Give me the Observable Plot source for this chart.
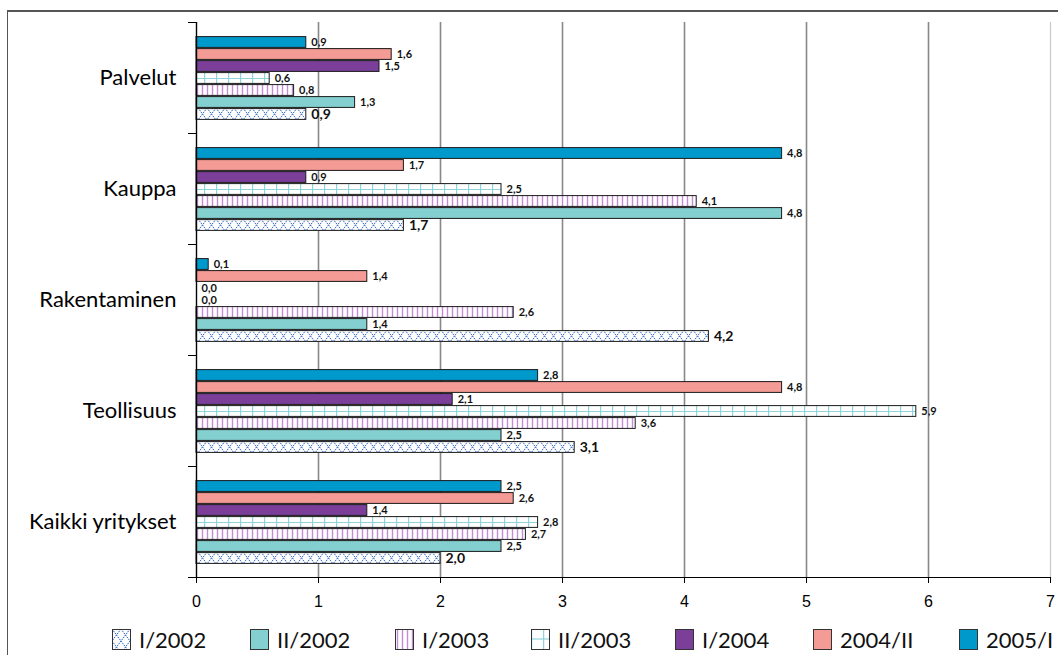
<!DOCTYPE html>
<html>
<head>
<meta charset="utf-8">
<script src="https://cdn.jsdelivr.net/npm/d3@7"></script>
<script src="https://cdn.jsdelivr.net/npm/@observablehq/plot@0.6"></script>
<style>
  body { margin: 0; background: #fff; }
  #wrap { position: relative; width: 1058px; height: 655px; overflow: hidden; background: #fff; font-family: Lato, "Open Sans", sans-serif; }
  #chart { position: absolute; left: 0; top: 0; }
  #border { position: absolute; left: 7px; top: 10px; right: -10px; bottom: -10px; border-left: 1.5px solid #555; border-top: 2px solid #555; pointer-events: none; }
  .lg { position: absolute; top: 629px; height: 21px; display: flex; align-items: center; font-size: 22px; color: #111; white-space: nowrap; }
  .lg svg { margin-right: 8px; flex: none; }
</style>
</head>
<body>
<div id="wrap">
  <svg width="0" height="0" style="position:absolute">
    <defs>
      <pattern id="pat-cross" patternUnits="userSpaceOnUse" width="9" height="12">
        <rect width="9" height="12" fill="#fff"/>
        <path d="M0,0L9,12M9,0L0,12" stroke="#2b63c6" stroke-width="1" stroke-dasharray="1.6,0.9" fill="none"/>
      </pattern>
      <pattern id="pat-vstripe" patternUnits="userSpaceOnUse" width="5" height="5">
        <rect width="5" height="5" fill="#fff"/>
        <line x1="2.5" y1="0" x2="2.5" y2="5" stroke="#c48cd6" stroke-width="1.4"/>
      </pattern>
      <pattern id="pat-grid" patternUnits="userSpaceOnUse" width="12" height="5">
        <rect width="12" height="5" fill="#fff"/>
        <line x1="0.6" y1="0" x2="0.6" y2="5" stroke="#8fd4da" stroke-width="1.2"/>
      </pattern>
    </defs>
  </svg>
  <div id="chart"></div>
  <div id="legend"></div>
  <div id="border"></div>
</div>
<script>
// Categories (top to bottom) and the half-year series
const categories = ["Palvelut", "Kauppa", "Rakentaminen", "Teollisuus", "Kaikki yritykset"];
const series = ["I/2002", "II/2002", "I/2003", "II/2003", "I/2004", "2004/II", "2005/I"];

// Values per series, in the order of categories
const vI2002  = [0.9, 1.7, 4.2, 3.1, 2.0];
const vII2002 = [1.3, 4.8, 1.4, 2.5, 2.5];
const vI2003  = [0.8, 4.1, 2.6, 3.6, 2.7];
const vII2003 = [0.6, 2.5, 0.0, 5.9, 2.8];
const vI2004  = [1.5, 0.9, 0.0, 2.1, 1.4];
const v2004II = [1.6, 1.7, 1.4, 4.8, 2.6];
const v2005I  = [0.9, 4.8, 0.1, 2.8, 2.5];

const xTicks = [0, 1, 2, 3, 4, 5, 6, 7];

const seriesValues = [vI2002, vII2002, vI2003, vII2003, vI2004, v2004II, v2005I];
const rows = [];
series.forEach((s, i) => categories.forEach((c, j) => rows.push({series: s, category: c, value: seriesValues[i][j]})));

// Fill for each series (patterns defined in the hidden <defs>)
const fills = ["url(#pat-cross)", "#84d0d0", "url(#pat-vstripe)", "url(#pat-grid)", "#7b3f99", "#f59b95", "#0099cc"];

const fmt = v => d3.format(".1f")(v).replace(".", ",");

const W = 1058, H = 620, mTop = 22, mBottom = 43, mLeft = 196, mRight = 8;
const step = (H - mTop - mBottom) / categories.length;

const chart = Plot.plot({
  width: W,
  height: H,
  marginTop: mTop,
  marginBottom: mBottom,
  marginLeft: mLeft,
  marginRight: mRight,
  style: {fontFamily: "Lato, sans-serif", fontSize: "12px", color: "#000", background: "transparent", overflow: "visible"},
  x: {domain: [0, 7]},
  y: {domain: series.slice().reverse(), paddingInner: 0, paddingOuter: 0.77, axis: null},
  fy: {domain: categories, padding: 0},
  color: {domain: series, range: fills},
  marks: [
    Plot.gridX(xTicks.filter(t => t > 0 && t < 7), {stroke: "#888", strokeOpacity: 1, strokeWidth: 1.6}),
    Plot.gridX(xTicks.filter(t => t === 7), {stroke: "#c8c8c8", strokeOpacity: 1, strokeWidth: 1.2}),
    Plot.barX(rows, {x: "value", y: "series", fy: "category", fill: "series", insetTop: 0.6, insetBottom: 0.6}),
    Plot.ruleY(rows.filter(d => d.series === "II/2003" && d.value > 0), {y: "series", fy: "category", x1: 0, x2: "value", stroke: "#8fd4da", strokeWidth: 1.2}),
    Plot.barX(rows, {x: "value", y: "series", fy: "category", fill: "none", stroke: "#1a1a1a", strokeWidth: 1, insetTop: 0.6, insetBottom: 0.6}),
    Plot.text(rows, {
      x: "value", y: "series", fy: "category",
      text: d => fmt(d.value),
      textAnchor: "start", dx: 5,
      fontWeight: "bold",
      fontSize: d => d.series === "I/2002" ? 14 : 11,
      fill: "#111"
    }),
    Plot.ruleX([0], {stroke: "#000", strokeWidth: 1.4}),
    Plot.frame({anchor: "bottom", facetAnchor: "bottom", stroke: "#000", strokeWidth: 1.2}),
    Plot.axisX(xTicks, {anchor: "bottom", tickSize: 6, tickPadding: 12, tickFormat: d3.format("d"), fontSize: 16, fontFamily: "Liberation Sans, Arial, sans-serif", label: null}),
    Plot.axisFy({anchor: "left", tickSize: 0, tickPadding: 20, fontSize: 22, label: null}),
    Plot.axisFy({anchor: "left", tickSize: 8, tickFormat: () => "", label: null, dy: -step / 2}),
    Plot.axisFy([categories[categories.length - 1]], {anchor: "left", tickSize: 8, tickFormat: () => "", label: null, dy: step / 2})
  ]
});
document.getElementById("chart").appendChild(chart);

// Legend row below the chart
const legendLeft = [112, 250, 395, 531, 675, 813, 959];
const legend = document.getElementById("legend");
series.forEach((s, i) => {
  const item = document.createElement("div");
  item.className = "lg";
  item.style.left = legendLeft[i] + "px";
  const mid = s === "II/2003" ? '<line x1="1" y1="10" x2="18" y2="10" stroke="#8fd4da" stroke-width="1.2"/>' : "";
  item.innerHTML =
    `<svg width="19" height="21"><rect x="0.5" y="0.5" width="18" height="20" fill="${fills[i]}"/>${mid}` +
    `<rect x="0.5" y="0.5" width="18" height="20" fill="none" stroke="#333" stroke-width="1"/></svg><span>${s}</span>`;
  legend.appendChild(item);
});
</script>
</body>
</html>
